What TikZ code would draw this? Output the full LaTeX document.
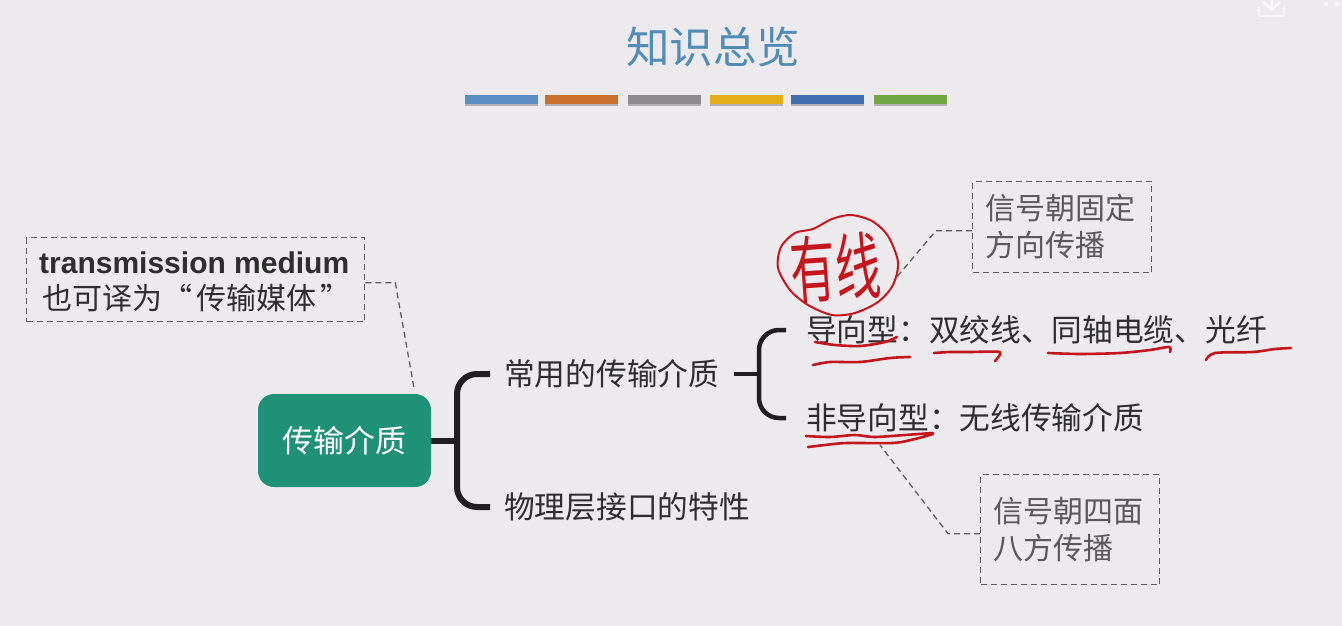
\documentclass[tikz,border=0pt]{standalone}
\usepackage{fontspec}
\setmainfont{Noto Sans CJK SC}
\newfontfamily\latinbold{Liberation Sans}
\usetikzlibrary{calc}
\definecolor{bgc}{HTML}{EDEAEE}
\definecolor{wmc}{HTML}{EBE9EC}
\definecolor{iconc}{HTML}{F7F5F8}
\definecolor{titlec}{HTML}{4F8CB6}
\definecolor{ink}{HTML}{2E2E2E}
\definecolor{greyink}{HTML}{5A5A5A}
\definecolor{dashc}{HTML}{5E5E5E}
\definecolor{redink}{HTML}{C4161C}
\definecolor{rootc}{HTML}{1F9176}
\definecolor{barA}{HTML}{5B8FC2}
\definecolor{barB}{HTML}{C9702F}
\definecolor{barC}{HTML}{8F8A90}
\definecolor{barD}{HTML}{E4AE17}
\definecolor{barE}{HTML}{3E6DB0}
\definecolor{barF}{HTML}{70A644}
\tikzset{
  x=1pt,y=-1pt,
  bar/.style={minimum width=73pt,minimum height=9pt,inner sep=0pt,anchor=north west,draw=none},
  label/.style={anchor=west,inner sep=0pt,text=ink,font=\fontsize{30.7}{36}\selectfont},
  note/.style={draw=dashc,dash pattern=on 6pt off 4pt,line width=1.3pt,inner sep=0pt,anchor=north west},
  notetext/.style={align=left,anchor=west,inner sep=0pt,text=greyink,font=\fontsize{30}{35}\selectfont},
  dashline/.style={draw=dashc,dash pattern=on 6pt off 4pt,line width=1.3pt},
  bigbracket/.style={draw=black!88,line width=6pt,rounded corners=20pt},
  smallbracket/.style={draw=black!88,line width=4.5pt,rounded corners=20pt},
  redline/.style={draw=redink,line width=2.6pt,line cap=round,line join=round},
  iconline/.style={draw=iconc,line width=2.5pt,line cap=round,line join=round},
}
\begin{document}
\begin{tikzpicture}
\useasboundingbox (0,0) rectangle (1342,626);
\fill[bgc] (0,0) rectangle (1342,626);
\fill[wmc,rounded corners=12pt] (-20,-20) rectangle (390,108);
% faint window icons at the top right
\draw[iconline] (1259,7) -- (1259,16) -- (1284,16) -- (1284,7);
\draw[iconline] (1271.5,-2) -- (1271.5,10) (1263,2) -- (1271.5,10) -- (1280,2);
\fill[iconc] (1326,4) circle (2.6) (1337,4) circle (2.6);
% title
\node[anchor=center,inner sep=0pt,text=titlec,font=\fontsize{43.5}{50}\selectfont] (title) at (713,47) {知识总览};
\foreach \nm/\xx/\cc in {ba/465/barA,bb/545/barB,bc/628/barC,bd/710/barD,be/791/barE,bf/874/barF}{
  \fill[black!30] (\xx,96) rectangle ++(73,10);
  \node[bar,fill=\cc] (\nm) at (\xx,95) {};
}
% root
\node[anchor=center,minimum width=173pt,minimum height=93pt,inner sep=0pt,rounded corners=16pt,fill=rootc,text=white,font=\fontsize{31}{36}\selectfont] (root) at (344.5,440.5) {传输介质};
% labels
\node[label] (common) at (504,374) {常用的传输介质};
\node[label] (phys) at (504,507) {物理层接口的特性};
\node[label] (guided) at (806,330) {导向型：双绞线、同轴电缆、光纤};
\node[label] (unguided) at (806,418) {非导向型：无线传输介质};
% notes
\node[note,minimum width=338pt,minimum height=84pt] (n1) at (26,237) {};
\node[anchor=west,inner sep=0pt,text=ink,font=\latinbold\bfseries\fontsize{30}{34}\selectfont] (n1a) at (39,263) {transmission medium};
\node[notetext,text=ink,font=\fontsize{30}{34}\selectfont] (n1b) at (42,298) {也可译为“\kern4pt 传输媒体\kern4pt ”};
\node[note,minimum width=179pt,minimum height=91pt] (n2) at (972,181) {};
\node[notetext] (n2a) at (985,226.5) {信号朝固定\\[2pt]方向传播};
\node[note,minimum width=179pt,minimum height=110pt] (n3) at (980,474) {};
\node[notetext] (n3a) at (993,530) {信号朝四面\\[2pt]八方传播};
% connectors
\coordinate (j1) at (457,440.5);
\coordinate (j2) at (759,374);
\draw[draw=black!88,line width=6pt] (root.east) -- (j1);
\draw[bigbracket] ([xshift=-14pt]common.west) -| (j1) |- ([xshift=-14pt]phys.west);
\draw[draw=black!88,line width=4.5pt] ([xshift=15pt]common.east) -- (j2);
\draw[smallbracket] ([xshift=-20pt]guided.west) -| (j2) |- ([xshift=-20pt]unguided.west);
\coordinate (e1) at (414,388);
\coordinate (e2) at (896,278);
\coordinate (e3) at (880,445);
\draw[dashline] ([yshift=-3pt]n1.east) -- ++(30,0) -- (e1);
\draw[dashline] ([yshift=-3.5pt]n2.west) -- ++(-36,0) -- (e2);
\draw[dashline] ([yshift=-4pt]n3.west) -- ++(-32,0) -- (e3);
% handwritten circle
\fill[bgc,draw=redink,line width=2pt]
 plot[smooth cycle] coordinates {(813,229) (832,219) (851,215) (872,221) (888,236) (898,262) (893,285) (878,302) (855,313) (832,315) (808,305) (790,290) (778,268) (781,247) (795,233)};
\node[text=redink,inner sep=0pt,rotate=4,xscale=1.05,yscale=1.7,font=\fontsize{43}{48}\selectfont] (hand) at (836,268) {有线};
% red underlines
\draw[redline] plot[smooth] coordinates {(815,342) (835,345) (860,346) (885,342) (897,337)};
\draw[redline] plot[smooth] coordinates {(813,365) (830,362) (860,362) (890,358) (910,357)};
\draw[redline] plot[smooth,tension=0.4] coordinates {(934,353) (950,352) (970,352) (1000,352) (995,361)};
\draw[redline] plot[smooth] coordinates {(1048,353) (1080,354) (1120,353) (1150,350) (1169,347) (1170,352)};
\draw[redline] plot[smooth] coordinates {(1206,360) (1215,353) (1253,352) (1275,349) (1291,348)};
\draw[redline] plot[smooth] coordinates {(806,436) (830,437) (855,435) (874,437) (905,435) (933,433)};
\draw[redline] plot[smooth] coordinates {(808,447) (825,445) (847,443) (893,443) (915,439) (933,434)};
\end{tikzpicture}
\end{document}
